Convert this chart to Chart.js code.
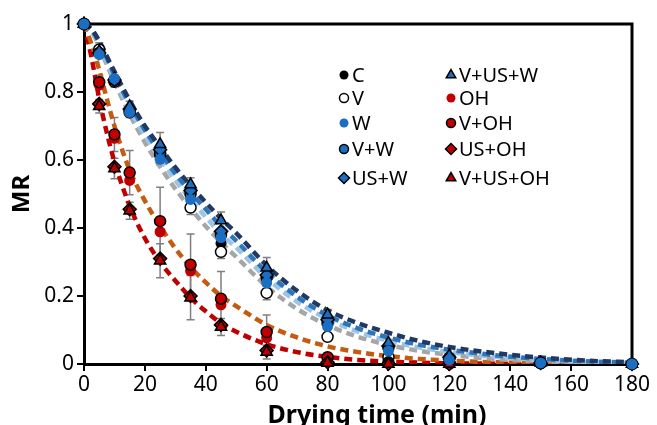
<!DOCTYPE html>
<html>
<head>
<meta charset="utf-8">
<script src="https://cdn.jsdelivr.net/npm/chart.js@4.4.1/dist/chart.umd.min.js"></script>
<style>
  html, body { margin: 0; padding: 0; background: #fff; overflow: hidden; }
  #wrap { width: 657px; height: 440px; }
</style>
</head>
<body>
<div id="wrap"><canvas id="mrChart" width="657" height="440"></canvas></div>
<script>
const times = [0, 5, 10, 15, 25, 35, 45, 60, 80, 100, 120, 150, 180];

// blue group (water pretreatments)
const mrC = [1, 0.92, 0.835, 0.745, 0.614, 0.50, 0.355, 0.25, 0.12, 0.045, 0.018, 0.003, 0];
const mrV = [1, 0.925, 0.83, 0.74, 0.615, 0.46, 0.33, 0.209, 0.08, 0.02, 0.005, 0.002, 0];
const mrW = [1, 0.91, 0.84, 0.74, 0.602, 0.484, 0.372, 0.239, 0.11, 0.038, 0.012, 0.003, 0];
const mrVW = [1, 0.915, 0.835, 0.745, 0.62, 0.50, 0.38, 0.255, 0.12, 0.048, 0.018, 0.003, 0];
const mrUSW = [1, 0.915, 0.835, 0.75, 0.63, 0.51, 0.39, 0.262, 0.13, 0.053, 0.02, 0.003, 0];
const mrVUSW = [1, 0.92, 0.84, 0.758, 0.646, 0.528, 0.422, 0.283, 0.145, 0.062, 0.025, 0.004, 0];

// red group (OH pretreatments), measured up to 120 min
const mrOH = [1, 0.82, 0.664, 0.54, 0.389, 0.274, 0.174, 0.077, 0.015, 0.003, 0];
const mrVOH = [1, 0.829, 0.675, 0.563, 0.42, 0.292, 0.192, 0.094, 0.02, 0.005, 0.001];
const mrUSOH = [1, 0.765, 0.58, 0.455, 0.31, 0.20, 0.115, 0.04, 0.005, 0.001, 0];
const mrVUSOH = [1, 0.758, 0.575, 0.451, 0.304, 0.195, 0.109, 0.035, 0.003, 0, 0];

// standard deviations (error bars)
const sdV = [0, 0.02, 0.015, 0.015, 0.03, 0.02, 0.02, 0.02, 0.01, 0.005, 0.003, 0, 0];
const sdVUSW = [0, 0.01, 0.01, 0.015, 0.035, 0.02, 0.025, 0.03, 0.015, 0.01, 0.005, 0, 0];
const sdVOH = [0, 0.02, 0.05, 0.065, 0.1, 0.09, 0.08, 0.05, 0.01, 0.005, 0];
const sdVUSOH = [0, 0.02, 0.03, 0.025, 0.05, 0.065, 0.025, 0.02, 0.005, 0, 0];

// fitted model curves
const fitTimes = [0, 2.5, 5, 7.5, 10, 15, 20, 25, 30, 35, 40, 45, 50, 60, 70, 80, 90, 100, 110, 120, 135, 150, 165, 180];
const fitNavy = [1, 0.985, 0.95, 0.905, 0.86, 0.775, 0.70, 0.638, 0.578, 0.525, 0.475, 0.428, 0.385, 0.29, 0.215, 0.158, 0.12, 0.092, 0.068, 0.05, 0.032, 0.019, 0.01, 0.005];
const fitBlue = [1, 0.983, 0.945, 0.9, 0.85, 0.765, 0.688, 0.622, 0.56, 0.505, 0.455, 0.405, 0.362, 0.27, 0.198, 0.143, 0.105, 0.078, 0.057, 0.042, 0.026, 0.015, 0.008, 0.004];
const fitLightBlue = [1, 0.98, 0.94, 0.89, 0.84, 0.75, 0.672, 0.603, 0.54, 0.484, 0.432, 0.383, 0.342, 0.253, 0.183, 0.132, 0.095, 0.068, 0.049, 0.035, 0.021, 0.012, 0.006, 0.003];
const fitGray = [1, 0.978, 0.935, 0.88, 0.83, 0.735, 0.652, 0.58, 0.515, 0.458, 0.405, 0.358, 0.315, 0.228, 0.162, 0.114, 0.08, 0.056, 0.039, 0.027, 0.015, 0.008, 0.004, 0.002];
const fitOrange = [1, 0.94, 0.865, 0.78, 0.70, 0.57, 0.48, 0.405, 0.34, 0.285, 0.24, 0.20, 0.17, 0.115, 0.078, 0.052, 0.035, 0.023, 0.015, 0.01, 0.005, 0.003, 0.001, 0];
const fitRed = [1, 0.9, 0.78, 0.68, 0.595, 0.465, 0.37, 0.30, 0.245, 0.195, 0.155, 0.12, 0.095, 0.058, 0.035, 0.021, 0.012, 0.007, 0.004, 0.002, 0.001, 0, 0, 0];

const BLUE = "#1b6ec2";
const RED = "#c00000";
const FONT = "'Noto Sans', 'DejaVu Sans', sans-serif";

function pts(values, errors) {
    return values.map((v, i) => ({ x: times[i], y: v, err: errors ? errors[i] : 0 }));
}

function fitPts(values) {
    return values.map((v, i) => ({ x: fitTimes[i], y: v }));
}

function marker(label, values, style, fill, border, errors) {
    return {
        label,
        data: pts(values, errors),
        showLine: false,
        clip: false,
        pointStyle: style,
        pointRadius: style === "circle" ? 5.5 : 6.5,
        pointBackgroundColor: fill,
        pointBorderColor: border,
        pointBorderWidth: border === fill ? 0 : 1.5,
        hasErrors: !!errors,
    };
}

function fitLine(values, color) {
    return {
        label: "fit",
        data: fitPts(values),
        showLine: true,
        pointRadius: 0,
        borderColor: color,
        borderWidth: 4.5,
        borderDash: [8, 5],
        cubicInterpolationMode: "monotone",
        fill: false,
    };
}

const markerSets = [
    marker("C", mrC, "circle", "#000", "#000"),
    marker("V", mrV, "circle", "#fff", "#000", sdV),
    marker("W", mrW, "circle", BLUE, BLUE),
    marker("V+W", mrVW, "circle", BLUE, "#000"),
    marker("US+W", mrUSW, "rectRot", BLUE, "#000"),
    marker("V+US+W", mrVUSW, "triangle", BLUE, "#000", sdVUSW),
    marker("OH", mrOH, "circle", RED, RED),
    marker("V+OH", mrVOH, "circle", RED, "#000", sdVOH),
    marker("US+OH", mrUSOH, "rectRot", RED, "#000"),
    marker("V+US+OH", mrVUSOH, "triangle", RED, "#000", sdVUSOH),
];

const fitSets = [
    fitLine(fitNavy, "#1f3864"),
    fitLine(fitBlue, "#2e75b6"),
    fitLine(fitLightBlue, "#9dc3e6"),
    fitLine(fitGray, "#a6a6a6"),
    fitLine(fitOrange, "#c55a11"),
    fitLine(fitRed, "#c00000"),
];

// index 0 is drawn last: W on top, then the other markers, curves underneath
const drawOrder = [2, 9, 8, 7, 6, 5, 4, 3, 1, 0];
const datasets = [...drawOrder.map((i) => markerSets[i]), ...fitSets];

const framePlugin = {
    id: "frame",
    beforeDatasetsDraw(chart) {
        const { ctx, chartArea: a, scales } = chart;
        ctx.save();
        ctx.strokeStyle = "#000";
        ctx.lineWidth = 3;
        ctx.beginPath();
        ctx.moveTo(a.left, a.top);
        ctx.lineTo(a.right, a.top);
        ctx.lineTo(a.right, a.bottom);
        ctx.stroke();

        // error bars
        ctx.strokeStyle = "#7f7f7f";
        ctx.lineWidth = 1.5;
        chart.data.datasets.forEach((ds) => {
            if (!ds.hasErrors) return;
            ds.data.forEach((p) => {
                if (!p.err) return;
                const x = scales.x.getPixelForValue(p.x);
                const y1 = scales.y.getPixelForValue(Math.min(1, p.y + p.err));
                const y2 = scales.y.getPixelForValue(Math.max(0, p.y - p.err));
                ctx.beginPath();
                ctx.moveTo(x, y1); ctx.lineTo(x, y2);
                ctx.moveTo(x - 4, y1); ctx.lineTo(x + 4, y1);
                ctx.moveTo(x - 4, y2); ctx.lineTo(x + 4, y2);
                ctx.stroke();
            });
        });
        ctx.restore();
    },
};

const labelsPlugin = {
    id: "labels",
    afterDraw(chart) {
        const { ctx } = chart;
        const cols = [{ mx: 344, tx: 352 }, { mx: 451, tx: 459 }];
        const rows = [75, 98, 123, 149, 178];
        ctx.save();
        ctx.font = `20px ${FONT}`;
        ctx.textBaseline = "middle";
        markerSets.forEach((ds, i) => {
            const c = cols[Math.floor(i / 5)];
            const y = rows[i % 5];
            ctx.fillStyle = ds.pointBackgroundColor;
            ctx.strokeStyle = ds.pointBorderColor;
            ctx.lineWidth = ds.pointBorderWidth;
            Chart.helpers.drawPoint(ctx, {
                pointStyle: ds.pointStyle,
                radius: ds.pointStyle === "circle" ? 4.5 : 5.5,
                rotation: 0,
                borderWidth: ds.pointBorderWidth,
            }, c.mx, y);
            ctx.fillStyle = "#000";
            ctx.fillText(ds.label, c.tx, y + 1);
        });

        // x axis title sits a little right of centre in the original
        ctx.font = `bold 25px ${FONT}`;
        ctx.textAlign = "center";
        ctx.textBaseline = "alphabetic";
        ctx.fillText("Drying time (min)", 377, 423);
        ctx.restore();
    },
};

new Chart(document.getElementById("mrChart").getContext("2d"), {
    type: "scatter",
    data: { datasets },
    options: {
        responsive: false,
        animation: false,
        layout: { padding: { top: 24, right: 25, left: 0, bottom: 0 } },
        plugins: { legend: { display: false }, tooltip: { enabled: false } },
        scales: {
            x: {
                type: "linear",
                min: 0,
                max: 180,
                ticks: { stepSize: 20, color: "#000", font: { family: FONT, size: 21 }, padding: 1, maxRotation: 0 },
                grid: { drawOnChartArea: false, drawTicks: true, tickLength: 7, color: "#000", lineWidth: 2 },
                border: { color: "#000", width: 3 },
                afterFit(scale) { scale.height = 76; },
            },
            y: {
                type: "linear",
                min: 0,
                max: 1,
                ticks: {
                    stepSize: 0.2,
                    color: "#000",
                    font: { family: FONT, size: 21 },
                    padding: 3,
                    callback: (v) => String(Number(v.toFixed(1))),
                },
                grid: { drawOnChartArea: false, drawTicks: true, tickLength: 7, color: "#000", lineWidth: 2 },
                border: { color: "#000", width: 3 },
                title: { display: true, text: "MR", color: "#000", font: { family: FONT, size: 24, weight: "bold" }, padding: { top: 8, bottom: 0 } },
                afterFit(scale) { scale.width = 84; },
            },
        },
    },
    plugins: [framePlugin, labelsPlugin],
});
</script>
</body>
</html>
